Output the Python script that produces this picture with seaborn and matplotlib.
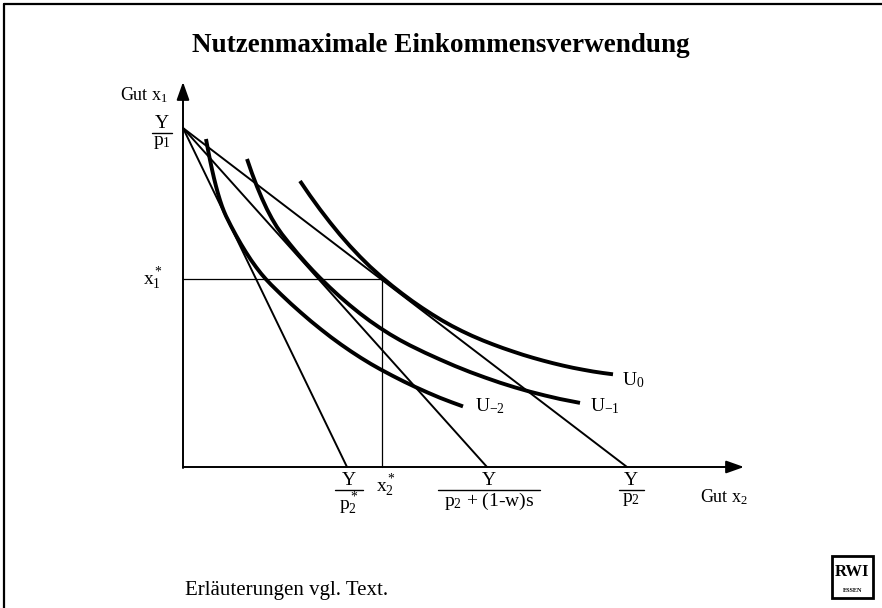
import matplotlib
matplotlib.use("Agg")
import numpy as np
import pandas as pd
import matplotlib.pyplot as plt
import seaborn as sns
from matplotlib.patches import Rectangle
from matplotlib.lines import Line2D

# ---------------- data (diagram units, origin where the axes cross) ----------
y_intercept = 339                      # Y/p1
x_intercepts = [164, 304, 444]         # Y/p2*, Y/(p2+(1-w)s), Y/p2
x2_star = 199
x1_star = 188

u0_x = [117, 127, 137, 147, 157, 167, 177, 187, 199, 209, 219, 229, 239, 249, 259,
        269, 279, 289, 300, 310, 320, 330, 340, 350, 360, 370, 380, 390, 400, 410,
        420, 430]
u0_y = [286, 271.4, 257.6, 244.6, 232.3, 220.9, 210.3, 200.4, 189.6, 181.3, 173.5,
        166.1, 159.2, 152.7, 146.6, 141.0, 135.9, 131.2, 126.5, 122.6, 118.9, 115.5,
        112.2, 109.2, 106.4, 103.8, 101.4, 99.2, 97.3, 95.5, 94.0, 92.7]

um1_x = [64, 69, 74, 79, 84, 89, 94, 99, 107, 115, 123, 130, 137, 147, 157, 167,
         177, 187, 197, 207, 217, 227, 242, 257, 272, 287, 302, 317, 332, 347, 362,
         377, 397]
um1_y = [308, 293.6, 280.4, 268.5, 257.7, 248.2, 239.9, 232.8, 222.7, 213.0, 203.9,
         196.3, 189.1, 179.4, 170.2, 161.6, 153.5, 146.0, 139.1, 132.7, 126.9, 121.6,
         114.3, 107.5, 101.0, 95.0, 89.5, 84.3, 79.6, 75.3, 71.5, 68.0, 64.1]

um2_x = [23, 25, 27, 29, 31, 33, 35, 37, 39, 41, 43, 48, 53, 58, 63, 68, 73, 78, 83,
         88, 98, 108, 118, 128, 138, 148, 158, 168, 178, 188, 197, 209, 221, 233,
         245, 257, 269, 280]
um2_y = [328, 317.2, 307.0, 297.6, 288.8, 280.8, 273.4, 266.8, 260.8, 255.6, 251.0,
         241.0, 231.7, 222.9, 214.7, 207.0, 200.0, 193.5, 187.7, 182.4, 172.6, 163.2,
         154.3, 145.7, 137.6, 129.8, 122.5, 115.6, 109.1, 103.0, 97.9, 91.5, 85.4,
         79.7, 74.3, 69.2, 64.6, 60.6]

curve_labels = ["$U_0$", "$U_{-1}$", "$U_{-2}$"]
title = "Nutzenmaximale Einkommensverwendung"
footer = "Erläuterungen vgl. Text."

# ---------------- style ------------------------------------------------------
sns.set_theme(style="white")
plt.rcParams["font.family"] = ["Liberation Serif", "DejaVu Serif"]
plt.rcParams["text.color"] = "black"
plt.rcParams["mathtext.fontset"] = "custom"
plt.rcParams["mathtext.rm"] = "Liberation Serif"
plt.rcParams["mathtext.it"] = "Liberation Serif:italic"
plt.rcParams["mathtext.bf"] = "Liberation Serif:bold"
plt.rcParams["mathtext.default"] = "regular"

W, H = 882, 608
fig = plt.figure(figsize=(W / 100, H / 100), dpi=100)
ax = fig.add_axes([0, 0, 1, 1])
ax.set_xlim(-183, W - 183)
ax.set_ylim(-(H - 467), 467)
ax.axis("off")

# axes with arrows
arrow = dict(arrowstyle="-|>,head_length=0.9,head_width=0.32", color="black",
             lw=1.4, shrinkA=0, shrinkB=0)
ax.annotate("", xy=(561, 0), xytext=(0, 0), arrowprops=arrow)
ax.annotate("", xy=(0, 385), xytext=(0, -1), arrowprops=arrow)

# budget lines
for b in x_intercepts:
    sns.lineplot(x=[0, b], y=[y_intercept, 0], color="black", lw=1.4,
                 sort=False, estimator=None, legend=False, ax=ax)

# optimum guide lines
ax.plot([0, x2_star], [x1_star, x1_star], color="black", lw=0.9)
ax.plot([x2_star, x2_star], [0, x1_star], color="black", lw=0.9)

# indifference curves
for xs, ys in [(u0_x, u0_y), (um1_x, um1_y), (um2_x, um2_y)]:
    sns.lineplot(x=xs, y=ys, color="black", lw=2.8, sort=False,
                 estimator=None, legend=False, ax=ax,
                 solid_joinstyle="round", solid_capstyle="butt")

# curve labels
ax.text(u0_x[-1] + 9, u0_y[-1] - 6, curve_labels[0], ha="left", va="center", fontsize=14)
ax.text(um1_x[-1] + 10, um1_y[-1] - 3, curve_labels[1], ha="left", va="center", fontsize=14)
ax.text(um2_x[-1] + 12, um2_y[-1], curve_labels[2], ha="left", va="center", fontsize=14)

FS = 14


def frac(xc, ybar, num, den, width):
    ax.plot([xc - width / 2, xc + width / 2], [ybar, ybar], color="black", lw=1.0)
    ax.text(xc, ybar + 1, num, ha="center", va="bottom", fontsize=FS)
    ax.text(xc, ybar - 1, den, ha="center", va="top", fontsize=FS)


# y-axis labels
frac(-21, y_intercept - 5, "Y", "$p_1$", 20)
ax.text(-15, 372, "Gut $x_1$", ha="right", va="center", fontsize=13)
ax.text(-20, x1_star, "$x_1^*$", ha="right", va="center", fontsize=FS)

# x-axis labels
frac(x_intercepts[0] + 2, -23, "Y", "$p_2^*$", 28)
frac(x_intercepts[1] + 2, -23, "Y", "$p_2$ + (1-w)s", 102)
frac(x_intercepts[2] + 4, -23, "Y", "$p_2$", 25)
ax.text(x2_star + 4, -19, "$x_2^*$", ha="center", va="center", fontsize=FS)
ax.text(517, -30, "Gut $x_2$", ha="left", va="center", fontsize=13)

# title and footer
fig.text(0.5, 1 - 45 / H, title, ha="center", va="center", fontsize=19.5,
         fontweight="bold")
fig.text(185 / W, 1 - 590 / H, footer, ha="left", va="center", fontsize=15)

# frame (top and left edges)
fig.add_artist(Line2D([4 / W, 1], [1 - 4 / H, 1 - 4 / H], transform=fig.transFigure,
                      color="black", lw=1.6))
fig.add_artist(Line2D([4 / W, 4 / W], [0, 1 - 4 / H], transform=fig.transFigure,
                      color="black", lw=1.6))

# logo
fig.add_artist(Rectangle((832 / W, 1 - 598 / H), 41 / W, 42 / H,
                         transform=fig.transFigure, fill=False, lw=2, color="black"))
fig.text(852.5 / W, 1 - 572 / H, "RWI", ha="center", va="center", fontsize=12,
         fontweight="bold")
fig.text(852.5 / W, 1 - 590 / H, "ESSEN", ha="center", va="center", fontsize=4.5,
         fontweight="bold")

fig.savefig("out.png", dpi=100)
